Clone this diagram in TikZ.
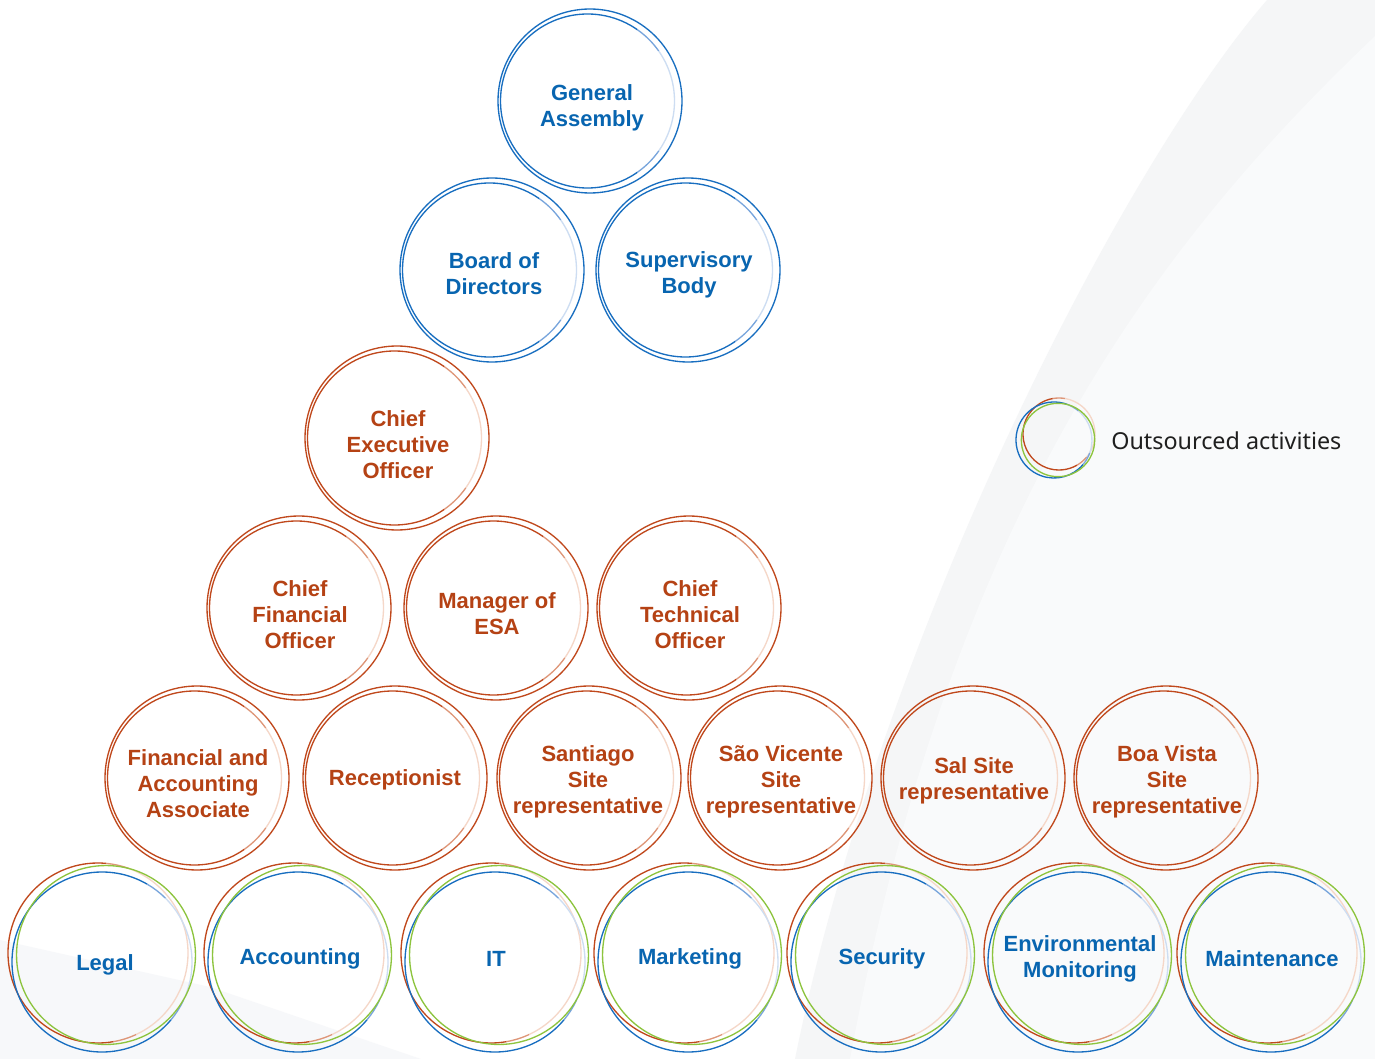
\documentclass[tikz,border=0pt]{standalone}
\usepackage{fontspec}
\setmainfont{Noto Sans}
\IfFontExistsTF{Noto Sans Bold}{%
  \newfontfamily\labfont{Noto Sans Bold}
  \newcommand\labsize{\fontsize{15.2pt}{19.5pt}\selectfont}}{%
  \IfFontExistsTF{Liberation Sans Bold}{%
    \newfontfamily\labfont{Liberation Sans Bold}
    \newcommand\labsize{\fontsize{16.5pt}{19.5pt}\selectfont}}{%
    \newfontfamily\labfont{Liberation Sans}[FakeBold=4]
    \newcommand\labsize{\fontsize{16.5pt}{19.5pt}\selectfont}}}
\usetikzlibrary{calc}
\definecolor{cblue}{RGB}{24,110,192}
\definecolor{tblue}{RGB}{8,101,176}
\definecolor{mblue}{RGB}{120,165,220}
\definecolor{lblue}{RGB}{205,221,242}
\definecolor{corange}{RGB}{192,72,28}
\definecolor{torange}{RGB}{181,66,20}
\definecolor{morange}{RGB}{222,150,120}
\definecolor{lorange}{RGB}{245,215,200}
\definecolor{cgreen}{RGB}{141,196,62}
\definecolor{bgA}{RGB}{245,246,247}
\definecolor{bgB}{RGB}{249,250,251}
\definecolor{bgC}{RGB}{247,248,250}
\newcommand\ringseg[6]{\draw[ringline,#6] ($(#1)+(#2)$) ++(#3:#5) arc[start angle=#3,end angle=#4,radius=#5];}
\newcommand\dblring[4]{%
  \draw[ringline,#2] (#1) circle[radius=69pt];
  \ringseg{#1}{-2.5,0}{55}{305}{65.25pt}{#2}
  \ringseg{#1}{-2.5,0}{35}{55}{65.25pt}{#3}
  \ringseg{#1}{-2.5,0}{-35}{35}{65.25pt}{#4}
  \ringseg{#1}{-2.5,0}{-55}{-35}{65.25pt}{#3}}
\newcommand\tripring[1]{%
  \ringseg{#1}{-5,-4}{85}{280}{67.5pt}{corange}
  \ringseg{#1}{-5,-4}{70}{85}{67.5pt}{morange}
  \ringseg{#1}{-5,-4}{-65}{70}{67.5pt}{lorange}
  \ringseg{#1}{-5,-4}{-80}{-65}{67.5pt}{morange}
  \ringseg{#1}{-1,5}{60}{320}{67.5pt}{cblue}
  \ringseg{#1}{-1,5}{45}{60}{67.5pt}{mblue}
  \ringseg{#1}{-1,5}{-25}{45}{67.5pt}{lblue}
  \ringseg{#1}{-1,5}{-40}{-25}{67.5pt}{mblue}
  \draw[ringline,cgreen] ($(#1)+(3,-2)$) circle[radius=67.1pt];}
\tikzset{
  ringline/.style={line width=1pt},
  lab/.style={align=center,inner sep=0pt,font=\labfont\labsize},
  labb/.style={lab,text=tblue},
  labo/.style={lab,text=torange},
  legtext/.style={anchor=west,inner sep=0pt,text=black!88,font=\fontsize{17.5pt}{20pt}\selectfont}
}
\begin{document}
\begin{tikzpicture}[x=0.75pt,y=-0.75pt]
\useasboundingbox (0,0) rectangle (1375,1059);
% background
\fill[white] (0,0) rectangle (1375,1059);
\fill[bgA] (1267,0) .. controls (1120,170) and (880,640) .. (795,1059) -- (1375,1059) -- (1375,0) -- cycle;
\fill[bgB] (1375,36) .. controls (1150,250) and (950,520) .. (850,1059) -- (1375,1059) -- cycle;
\fill[bgC] (0,940) -- (210,987) -- (421,1059) -- (0,1059) -- cycle;
% ring centres
\coordinate (c-ga) at (590,101);
\coordinate (c-bod) at (492,270);
\coordinate (c-sup) at (688,270);
\coordinate (c-ceo) at (397,438);
\coordinate (c-cfo) at (299,608);
\coordinate (c-esa) at (496,608);
\coordinate (c-cto) at (689,608);
\coordinate (c-fin) at (197,778);
\coordinate (c-rec) at (395,778);
\coordinate (c-san) at (589,778);
\coordinate (c-sv) at (780,778);
\coordinate (c-sal) at (973,778);
\coordinate (c-bv) at (1166,778);
\coordinate (c-leg) at (103,957);
\coordinate (c-acc) at (299,957);
\coordinate (c-it) at (496,957);
\coordinate (c-mkt) at (689,957);
\coordinate (c-sec) at (882,957);
\coordinate (c-env) at (1079,957);
\coordinate (c-mnt) at (1272,957);
\coordinate (c-lg) at (1056,438);
% rings
\foreach \n in {ga,bod,sup} {\dblring{c-\n}{cblue}{mblue}{lblue}}
\foreach \n in {ceo,cfo,esa,cto,fin,rec,san,sv,sal,bv} {\dblring{c-\n}{corange}{morange}{lorange}}
\foreach \n in {leg,acc,it,mkt,sec,env,mnt} {\tripring{c-\n}}
% legend rings
\ringseg{c-lg}{3,-4}{100}{300}{27pt}{corange}
\ringseg{c-lg}{3,-4}{80}{100}{27pt}{morange}
\ringseg{c-lg}{3,-4}{-40}{80}{27pt}{lorange}
\ringseg{c-lg}{3,-4}{-60}{-40}{27pt}{morange}
\ringseg{c-lg}{-2,2}{70}{320}{28.5pt}{cblue}
\ringseg{c-lg}{-2,2}{50}{70}{28.5pt}{mblue}
\ringseg{c-lg}{-2,2}{-20}{50}{28.5pt}{lblue}
\ringseg{c-lg}{-2,2}{-40}{-20}{28.5pt}{mblue}
\draw[ringline,cgreen] ($(c-lg)+(2,2)$) circle[radius=27.5pt];
% labels
\node[labb] (ga) at (592,108) {General\\Assembly};
\node[labb] (bod) at (494,274) {Board of\\Directors};
\node[labb] (sup) at (689,275) {Supervisory\\Body};
\node[labo] (ceo) at (398,445) {Chief\\Executive\\Officer};
\node[labo] (cfo) at (300,615) {Chief\\Financial\\Officer};
\node[labo] (esa) at (497,614) {Manager of\\ESA};
\node[labo] (cto) at (690,615) {Chief\\Technical\\Officer};
\node[labo] (fin) at (198,784) {Financial and\\Accounting\\Associate};
\node[labo] (rec) at (395,780) {Receptionist};
\node[labo] (san) at (588,782) {Santiago\\Site\\representative};
\node[labo] (sv) at (781,782) {São Vicente\\Site\\representative};
\node[labo] (sal) at (974,781) {Sal Site\\representative};
\node[labo] (bv) at (1167,782) {Boa Vista\\Site\\representative};
\node[labb] (leg) at (105,965) {Legal};
\node[labb] (acc) at (300,959) {Accounting};
\node[labb] (it) at (496,959) {IT};
\node[labb] (mkt) at (690,959) {Marketing};
\node[labb] (sec) at (882,959) {Security};
\node[labb] (env) at (1080,959) {Environmental\\Monitoring};
\node[labb] (mnt) at (1272,959) {Maintenance};
\node[legtext] (leg-t) at (1111,441) {Outsourced activities};
\end{tikzpicture}
\end{document}
